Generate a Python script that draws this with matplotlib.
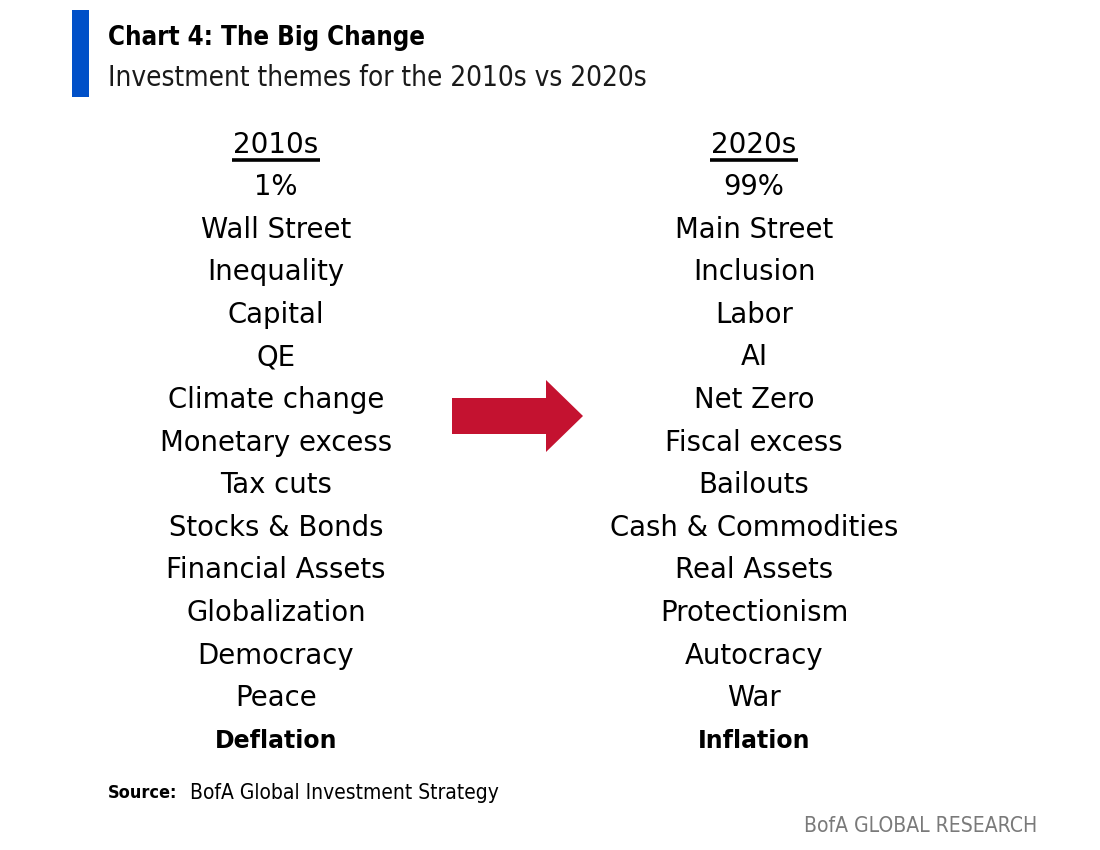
import matplotlib.pyplot as plt
import matplotlib.patches as mpatches

# Chart content
title = "Chart 4: The Big Change"
subtitle = "Investment themes for the 2010s vs 2020s"
headers = ["2010s", "2020s"]
themes_2010s = ["1%", "Wall Street", "Inequality", "Capital", "QE", "Climate change",
                "Monetary excess", "Tax cuts", "Stocks & Bonds", "Financial Assets",
                "Globalization", "Democracy", "Peace", "Deflation"]
themes_2020s = ["99%", "Main Street", "Inclusion", "Labor", "AI", "Net Zero",
                "Fiscal excess", "Bailouts", "Cash & Commodities", "Real Assets",
                "Protectionism", "Autocracy", "War", "Inflation"]
source_label = "Source:"
source_text = "BofA Global Investment Strategy"
brand = "BofA GLOBAL RESEARCH"

narrow = dict(family='DejaVu Sans', fontstretch='condensed')
body = dict(family='DejaVu Sans')

fig = plt.figure(figsize=(11, 8.5), dpi=100)
ax = fig.add_axes([0, 0, 1, 1])
ax.set_xlim(0, 1100)
ax.set_ylim(850, 0)
ax.axis('off')

# blue accent bar next to the title
ax.add_patch(mpatches.Rectangle((72, 10), 17, 87, color='#0050C8', lw=0))
ax.text(108, 38, title, fontweight='bold', fontsize=18.5,
        va='center', ha='left', color='black', **narrow)
ax.text(108, 78, subtitle, fontsize=20,
        va='center', ha='left', color='#1a1a1a', **narrow)

col_x = [276, 754]
row0, step = 187, 42.6
for cx, head, items in zip(col_x, headers, [themes_2010s, themes_2020s]):
    ax.text(cx, 145, head, fontsize=20, ha='center', va='center', **body)
    ax.plot([cx - 44, cx + 44], [160, 160], color='black', lw=2.6, solid_capstyle='butt')
    for i, item in enumerate(items):
        last = i == len(items) - 1
        ax.text(cx, row0 + i * step, item, fontsize=17 if last else 19.8,
                ha='center', va='center', color='black',
                fontweight='bold' if last else 'normal', **body)

# red arrow between the columns
ax.add_patch(mpatches.FancyArrow(452, 416, 131, 0, width=36, head_width=72,
                                 head_length=37, length_includes_head=True,
                                 color='#C41230', lw=0))

ax.text(108, 793, source_label, fontweight='bold', fontsize=13,
        ha='left', va='center', **narrow)
ax.text(190, 793, source_text, fontsize=15, ha='left', va='center', **narrow)
ax.text(1037, 826, brand, fontsize=15.1, ha='right', va='center',
        color='#7a7a7a', **narrow)

fig.savefig('out.png', dpi=100)
